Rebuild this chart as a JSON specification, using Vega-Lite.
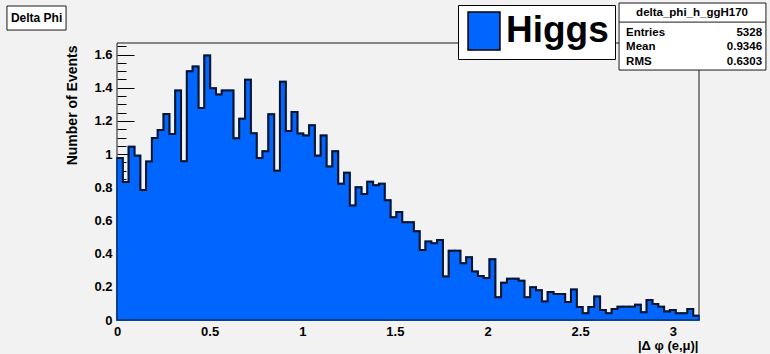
{
  "$schema": "https://vega.github.io/schema/vega-lite/v6.json",
  "width": 582,
  "height": 277,
  "autosize": {"type": "none"},
  "padding": {"left": 117, "top": 43, "right": 71, "bottom": 34},
  "background": "#f2f2f2",
  "config": {
    "view": {"stroke": null},
    "font": "Liberation Sans",
    "axis": {"grid": false, "domain": false, "tickColor": "black", "tickWidth": 1, "labelColor": "black", "labelFont": "Liberation Sans", "labelFontWeight": "bold", "labelFontSize": 13, "titleColor": "black", "titleFont": "Liberation Sans", "titleFontWeight": "bold", "titleFontSize": 13, "labelFlush": false, "labelOverlap": false, "format": "~g"}
  },
  "data": {"values": [
    {"lo": 0, "hi": 0.0314, "v": 0.977},
    {"lo": 0.0314, "hi": 0.0628, "v": 0.832},
    {"lo": 0.0628, "hi": 0.0942, "v": 1.045},
    {"lo": 0.0942, "hi": 0.1257, "v": 0.991},
    {"lo": 0.1257, "hi": 0.1571, "v": 0.784},
    {"lo": 0.1571, "hi": 0.1885, "v": 0.955},
    {"lo": 0.1885, "hi": 0.2199, "v": 1.097},
    {"lo": 0.2199, "hi": 0.2513, "v": 1.146},
    {"lo": 0.2513, "hi": 0.2827, "v": 1.242},
    {"lo": 0.2827, "hi": 0.3142, "v": 1.122},
    {"lo": 0.3142, "hi": 0.3456, "v": 1.383},
    {"lo": 0.3456, "hi": 0.3770, "v": 0.957},
    {"lo": 0.3770, "hi": 0.4084, "v": 1.499},
    {"lo": 0.4084, "hi": 0.4398, "v": 1.528},
    {"lo": 0.4398, "hi": 0.4712, "v": 1.278},
    {"lo": 0.4712, "hi": 0.5027, "v": 1.594},
    {"lo": 0.5027, "hi": 0.5341, "v": 1.397},
    {"lo": 0.5341, "hi": 0.5655, "v": 1.359},
    {"lo": 0.5655, "hi": 0.5969, "v": 1.383},
    {"lo": 0.5969, "hi": 0.6283, "v": 1.383},
    {"lo": 0.6283, "hi": 0.6597, "v": 1.095},
    {"lo": 0.6597, "hi": 0.6912, "v": 1.214},
    {"lo": 0.6912, "hi": 0.7226, "v": 1.449},
    {"lo": 0.7226, "hi": 0.7540, "v": 1.126},
    {"lo": 0.7540, "hi": 0.7854, "v": 0.976},
    {"lo": 0.7854, "hi": 0.8168, "v": 1.018},
    {"lo": 0.8168, "hi": 0.8482, "v": 1.240},
    {"lo": 0.8482, "hi": 0.8796, "v": 0.900},
    {"lo": 0.8796, "hi": 0.9111, "v": 1.437},
    {"lo": 0.9111, "hi": 0.9425, "v": 1.140},
    {"lo": 0.9425, "hi": 0.9739, "v": 1.254},
    {"lo": 0.9739, "hi": 1.0053, "v": 1.124},
    {"lo": 1.0053, "hi": 1.0367, "v": 1.112},
    {"lo": 1.0367, "hi": 1.0681, "v": 1.174},
    {"lo": 1.0681, "hi": 1.0996, "v": 0.991},
    {"lo": 1.0996, "hi": 1.1310, "v": 1.112},
    {"lo": 1.1310, "hi": 1.1624, "v": 0.926},
    {"lo": 1.1624, "hi": 1.1938, "v": 1.017},
    {"lo": 1.1938, "hi": 1.2252, "v": 0.822},
    {"lo": 1.2252, "hi": 1.2566, "v": 0.888},
    {"lo": 1.2566, "hi": 1.2881, "v": 0.691},
    {"lo": 1.2881, "hi": 1.3195, "v": 0.800},
    {"lo": 1.3195, "hi": 1.3509, "v": 0.760},
    {"lo": 1.3509, "hi": 1.3823, "v": 0.833},
    {"lo": 1.3823, "hi": 1.4137, "v": 0.813},
    {"lo": 1.4137, "hi": 1.4451, "v": 0.822},
    {"lo": 1.4451, "hi": 1.4765, "v": 0.722},
    {"lo": 1.4765, "hi": 1.5080, "v": 0.619},
    {"lo": 1.5080, "hi": 1.5394, "v": 0.651},
    {"lo": 1.5394, "hi": 1.5708, "v": 0.590},
    {"lo": 1.5708, "hi": 1.6022, "v": 0.590},
    {"lo": 1.6022, "hi": 1.6336, "v": 0.535},
    {"lo": 1.6336, "hi": 1.6650, "v": 0.422},
    {"lo": 1.6650, "hi": 1.6965, "v": 0.473},
    {"lo": 1.6965, "hi": 1.7279, "v": 0.463},
    {"lo": 1.7279, "hi": 1.7593, "v": 0.482},
    {"lo": 1.7593, "hi": 1.7907, "v": 0.263},
    {"lo": 1.7907, "hi": 1.8221, "v": 0.418},
    {"lo": 1.8221, "hi": 1.8535, "v": 0.418},
    {"lo": 1.8535, "hi": 1.8850, "v": 0.342},
    {"lo": 1.8850, "hi": 1.9164, "v": 0.378},
    {"lo": 1.9164, "hi": 1.9478, "v": 0.293},
    {"lo": 1.9478, "hi": 1.9792, "v": 0.266},
    {"lo": 1.9792, "hi": 2.0106, "v": 0.253},
    {"lo": 2.0106, "hi": 2.0420, "v": 0.367},
    {"lo": 2.0420, "hi": 2.0735, "v": 0.137},
    {"lo": 2.0735, "hi": 2.1049, "v": 0.224},
    {"lo": 2.1049, "hi": 2.1363, "v": 0.249},
    {"lo": 2.1363, "hi": 2.1677, "v": 0.249},
    {"lo": 2.1677, "hi": 2.1991, "v": 0.237},
    {"lo": 2.1991, "hi": 2.2305, "v": 0.137},
    {"lo": 2.2305, "hi": 2.2619, "v": 0.197},
    {"lo": 2.2619, "hi": 2.2934, "v": 0.179},
    {"lo": 2.2934, "hi": 2.3248, "v": 0.111},
    {"lo": 2.3248, "hi": 2.3562, "v": 0.169},
    {"lo": 2.3562, "hi": 2.3876, "v": 0.157},
    {"lo": 2.3876, "hi": 2.4190, "v": 0.157},
    {"lo": 2.4190, "hi": 2.4504, "v": 0.108},
    {"lo": 2.4504, "hi": 2.4819, "v": 0.184},
    {"lo": 2.4819, "hi": 2.5133, "v": 0.079},
    {"lo": 2.5133, "hi": 2.5447, "v": 0.041},
    {"lo": 2.5447, "hi": 2.5761, "v": 0.079},
    {"lo": 2.5761, "hi": 2.6075, "v": 0.141},
    {"lo": 2.6075, "hi": 2.6389, "v": 0.060},
    {"lo": 2.6389, "hi": 2.6704, "v": 0.040},
    {"lo": 2.6704, "hi": 2.7018, "v": 0.066},
    {"lo": 2.7018, "hi": 2.7332, "v": 0.080},
    {"lo": 2.7332, "hi": 2.7646, "v": 0.080},
    {"lo": 2.7646, "hi": 2.7960, "v": 0.080},
    {"lo": 2.7960, "hi": 2.8274, "v": 0.092},
    {"lo": 2.8274, "hi": 2.8588, "v": 0.046},
    {"lo": 2.8588, "hi": 2.8903, "v": 0.121},
    {"lo": 2.8903, "hi": 2.9217, "v": 0.096},
    {"lo": 2.9217, "hi": 2.9531, "v": 0.080},
    {"lo": 2.9531, "hi": 2.9845, "v": 0.052},
    {"lo": 2.9845, "hi": 3.0159, "v": 0.060},
    {"lo": 3.0159, "hi": 3.0473, "v": 0.040},
    {"lo": 3.0473, "hi": 3.0788, "v": 0.040},
    {"lo": 3.0788, "hi": 3.1102, "v": 0.066},
    {"lo": 3.1102, "hi": 3.1416, "v": 0.026}
  ]},
  "layer": [
    {
      "mark": {"type": "bar", "stroke": "#0066ff", "strokeWidth": 2, "opacity": 1},
      "encoding": {
        "x": {"field": "lo", "type": "quantitative", "scale": {"domain": [0, 3.1416], "nice": false, "zero": false},
              "axis": {"orient": "bottom", "values": [0, 0.5, 1, 1.5, 2, 2.5, 3], "tickSize": -10, "labelPadding": 15,
                       "title": "|Δ φ (e,μ)|", "titleX": 581, "titleY": 25, "titleAlign": "right", "titleBaseline": "middle", "titleAnchor": null}},
        "x2": {"field": "hi"},
        "y": {"field": "v", "type": "quantitative", "scale": {"domain": [0, 1.67], "nice": false},
              "axis": {"orient": "left", "values": [0, 0.2, 0.4, 0.6, 0.8, 1, 1.2, 1.4, 1.6], "tickSize": -17, "labelPadding": 22,
                       "title": "Number of Events", "titleFontSize": 14, "titleX": -45, "titleY": 2, "titleAngle": -90, "titleAlign": "right", "titleBaseline": "middle", "titleAnchor": null}},
        "y2": {"datum": 0},
        "color": {"datum": "Higgs", "type": "nominal", "scale": {"domain": ["Higgs"], "range": ["#0066ff"]},
                  "legend": {"orient": "none", "legendX": 341, "legendY": -38, "title": null, "strokeColor": "black", "fillColor": "white", "padding": 6,
                             "symbolType": "M-0.84,-1H0.84V1H-0.84Z", "symbolSize": 1444, "symbolStrokeColor": "black", "symbolStrokeWidth": 1.5, "symbolOpacity": 1,
                             "labelFontSize": 37, "labelFont": "Liberation Sans", "labelFontWeight": "bold", "labelColor": "black", "labelOffset": 2, "labelLimit": 300}}
      }
    },
    {
      "transform": [{"fold": ["lo", "hi"], "as": ["edge", "xpos"]}],
      "mark": {"type": "line", "color": "#0a1428", "strokeWidth": 2, "strokeJoin": "miter"},
      "encoding": {
        "x": {"field": "xpos", "type": "quantitative",
              "axis": {"orient": "bottom", "values": [0.1,0.2,0.3,0.4,0.6,0.7,0.8,0.9,1.1,1.2,1.3,1.4,1.6,1.7,1.8,1.9,2.1,2.2,2.3,2.4,2.6,2.7,2.8,2.9,3.1], "tickSize": -5, "labels": false, "title": null}},
        "y": {"field": "v", "type": "quantitative",
              "axis": {"orient": "left", "values": [0.05,0.1,0.15,0.25,0.3,0.35,0.45,0.5,0.55,0.65,0.7,0.75,0.85,0.9,0.95,1.05,1.1,1.15,1.25,1.3,1.35,1.45,1.5,1.55,1.65], "tickSize": -9, "labels": false, "title": null}},
        "order": [{"field": "lo", "type": "quantitative"}, {"field": "edge", "type": "nominal", "sort": "descending"}]
      }
    },
    {
      "data": {"values": [{}]},
      "mark": {"type": "rect", "filled": false, "stroke": "#1a1a1a", "strokeWidth": 1},
      "encoding": {"x": {"datum": 0, "type": "quantitative", "axis": null}, "x2": {"datum": 3.1416}, "y": {"datum": 0, "type": "quantitative", "axis": null}, "y2": {"datum": 1.67}}
    },
    {
      "data": {"values": [{}]},
      "mark": {"type": "rect", "fill": "white", "stroke": "#1a1a1a", "strokeWidth": 1},
      "encoding": {"x": {"datum": -0.594, "type": "quantitative", "axis": null}, "x2": {"datum": -0.275}, "y": {"datum": 1.893, "type": "quantitative", "axis": null}, "y2": {"datum": 1.748}}
    },
    {
      "data": {"values": [{}]},
      "mark": {"type": "text", "text": "Delta Phi", "font": "Liberation Sans", "fontWeight": "bold", "fontSize": 12, "color": "black", "align": "center", "baseline": "middle"},
      "encoding": {"x": {"datum": -0.434, "type": "quantitative", "axis": null}, "y": {"datum": 1.818, "type": "quantitative", "axis": null}}
    },
    {
      "data": {"values": [{}]},
      "mark": {"type": "rect", "fill": "black"},
      "encoding": {"x": {"datum": 1.86, "type": "quantitative", "axis": null}, "x2": {"datum": 2.69}, "y": {"datum": 1.87, "type": "quantitative", "axis": null}, "y2": {"datum": 1.572}}
    },
    {
      "data": {"values": [{}]},
      "mark": {"type": "rect", "fill": "white", "stroke": "#1a1a1a", "strokeWidth": 1},
      "encoding": {"x": {"datum": 2.710, "type": "quantitative", "axis": null}, "x2": {"datum": 3.503}, "y": {"datum": 1.911, "type": "quantitative", "axis": null}, "y2": {"datum": 1.507}}
    },
    {
      "data": {"values": [{}]},
      "mark": {"type": "rule", "color": "#1a1a1a", "strokeWidth": 1},
      "encoding": {"x": {"datum": 2.710, "type": "quantitative", "axis": null}, "x2": {"datum": 3.503}, "y": {"datum": 1.796, "type": "quantitative", "axis": null}}
    },
    {
      "data": {"values": [{}]},
      "mark": {"type": "text", "text": "delta_phi_h_ggH170", "font": "Liberation Sans", "fontWeight": "bold", "fontSize": 11.5, "color": "black", "align": "center", "baseline": "middle"},
      "encoding": {"x": {"datum": 3.104, "type": "quantitative", "axis": null}, "y": {"datum": 1.853, "type": "quantitative", "axis": null}}
    },
    {
      "data": {"values": [{}]},
      "mark": {"type": "text", "text": "Entries", "font": "Liberation Sans", "fontWeight": "bold", "fontSize": 11.5, "color": "black", "align": "left", "baseline": "middle"},
      "encoding": {"x": {"datum": 2.748, "type": "quantitative", "axis": null}, "y": {"datum": 1.730, "type": "quantitative", "axis": null}}
    },
    {
      "data": {"values": [{}]},
      "mark": {"type": "text", "text": "Mean", "font": "Liberation Sans", "fontWeight": "bold", "fontSize": 11.5, "color": "black", "align": "left", "baseline": "middle"},
      "encoding": {"x": {"datum": 2.748, "type": "quantitative", "axis": null}, "y": {"datum": 1.646, "type": "quantitative", "axis": null}}
    },
    {
      "data": {"values": [{}]},
      "mark": {"type": "text", "text": "RMS", "font": "Liberation Sans", "fontWeight": "bold", "fontSize": 11.5, "color": "black", "align": "left", "baseline": "middle"},
      "encoding": {"x": {"datum": 2.748, "type": "quantitative", "axis": null}, "y": {"datum": 1.555, "type": "quantitative", "axis": null}}
    },
    {
      "data": {"values": [{}]},
      "mark": {"type": "text", "text": "5328", "font": "Liberation Sans", "fontWeight": "bold", "fontSize": 11.5, "color": "black", "align": "right", "baseline": "middle"},
      "encoding": {"x": {"datum": 3.482, "type": "quantitative", "axis": null}, "y": {"datum": 1.730, "type": "quantitative", "axis": null}}
    },
    {
      "data": {"values": [{}]},
      "mark": {"type": "text", "text": "0.9346", "font": "Liberation Sans", "fontWeight": "bold", "fontSize": 11.5, "color": "black", "align": "right", "baseline": "middle"},
      "encoding": {"x": {"datum": 3.482, "type": "quantitative", "axis": null}, "y": {"datum": 1.646, "type": "quantitative", "axis": null}}
    },
    {
      "data": {"values": [{}]},
      "mark": {"type": "text", "text": "0.6303", "font": "Liberation Sans", "fontWeight": "bold", "fontSize": 11.5, "color": "black", "align": "right", "baseline": "middle"},
      "encoding": {"x": {"datum": 3.482, "type": "quantitative", "axis": null}, "y": {"datum": 1.555, "type": "quantitative", "axis": null}}
    }
  ],
  "resolve": {"axis": {"x": "independent", "y": "independent"}, "scale": {"x": "shared", "y": "shared"}}
}
